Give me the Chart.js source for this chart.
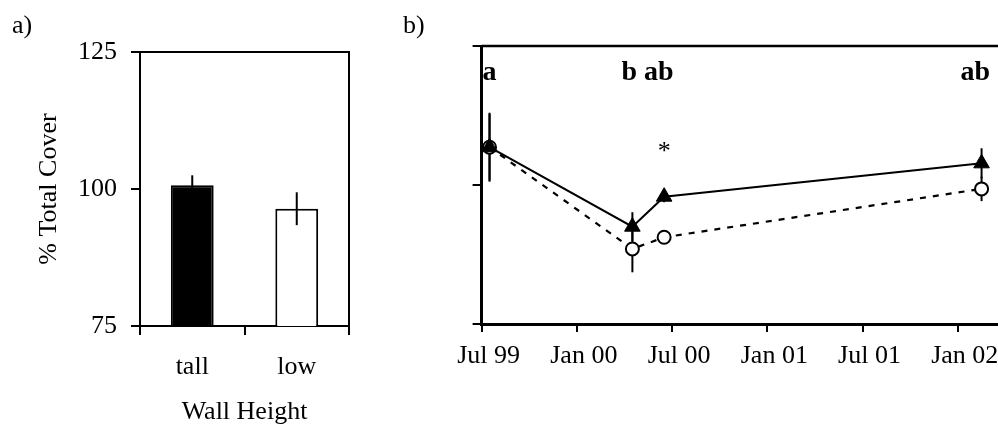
<!DOCTYPE html>
<html><head><meta charset="utf-8">
<script src="https://cdn.jsdelivr.net/npm/chart.js@4/dist/chart.umd.min.js"></script>
<style>
html,body{margin:0;padding:0;background:#fff;overflow:hidden;}
#wrap{position:relative;width:998px;height:428px;overflow:hidden;background:#fff;}
#ca{position:absolute;left:0;top:0;}
#cb{position:absolute;left:380px;top:0;}
</style></head><body>
<div id="wrap">
<canvas id="ca" width="380" height="428"></canvas>
<canvas id="cb" width="683" height="428"></canvas>
</div>
<script>
// ---- Panel a data ----
const wallCategories = ['tall', 'low'];
const wallMeans = [100.7, 96.4];
const wallErrors = [1.8, 3.0];
const coverTicks = [75, 100, 125];

// ---- Panel b data (x = months since Jul 1999) ----
const surveyMonths = [0.5, 9.5, 11.5, 31.5];
const tallSeries = [106.8, 92.5, 97.9, 103.9];
const tallErrors = [6.2, 2.6, 1.0, 2.7];
const lowSeries = [106.8, 88.5, 90.6, 99.3];
const lowErrors = [6.0, 4.2, 1.0, 2.2];
const dateTickMonths = [0, 6, 12, 18, 24, 30];
const dateTickLabels = ['Jul 99', 'Jan 00', 'Jul 00', 'Jan 01', 'Jul 01', 'Jan 02'];
const letterTexts = ['a', 'b ab', 'ab'];
const letterMonths = [0.5, 10.45, 31.1];
const letterLevel = 118.8;
const starText = '*';
const starMonth = 11.5;
const starLevel = 104.6;

const F = "'Liberation Serif','Times New Roman',serif";
const BLACK = '#000';

// ---------- Panel a ----------
const framePluginA = {
  id: 'frameA',
  afterDraw(chart) {
    const {ctx, chartArea: a} = chart;
    ctx.save();
    ctx.strokeStyle = BLACK; ctx.lineWidth = 2;
    ctx.beginPath();
    ctx.moveTo(a.left, a.top); ctx.lineTo(a.right, a.top); ctx.lineTo(a.right, a.bottom);
    ctx.stroke();
    ctx.fillStyle = BLACK;
    ctx.font = '26px ' + F;
    ctx.textAlign = 'left'; ctx.textBaseline = 'alphabetic';
    ctx.fillText('a)', 12, 33);
    ctx.restore();
  }
};
const errPluginA = {
  id: 'errA',
  afterDatasetsDraw(chart) {
    const {ctx} = chart;
    const ys = chart.scales.y;
    const meta = chart.getDatasetMeta(0);
    ctx.save();
    ctx.strokeStyle = BLACK; ctx.lineWidth = 2;
    meta.data.forEach((bar, i) => {
      ctx.beginPath();
      ctx.moveTo(bar.x, ys.getPixelForValue(wallMeans[i] + wallErrors[i]));
      ctx.lineTo(bar.x, ys.getPixelForValue(wallMeans[i] - wallErrors[i]));
      ctx.stroke();
    });
    ctx.restore();
  }
};

new Chart(document.getElementById('ca'), {
  type: 'bar',
  data: {
    labels: wallCategories,
    datasets: [{
      data: wallMeans,
      backgroundColor: [BLACK, '#fff'],
      borderColor: BLACK,
      borderWidth: 2,
      borderSkipped: false,
      barPercentage: 0.41,
      categoryPercentage: 1
    }]
  },
  options: {
    responsive: false, animation: false, events: [],
    layout: {padding: {top: 52, right: 31, left: 0, bottom: 0}},
    plugins: {legend: {display: false}, tooltip: {enabled: false}},
    scales: {
      x: {
        grid: {offset: true, drawOnChartArea: false, color: BLACK, lineWidth: 2, tickLength: 9},
        border: {color: BLACK, width: 2},
        ticks: {color: BLACK, font: {family: F, size: 26, lineHeight: 1}, padding: 19},
        title: {display: true, text: 'Wall Height', color: BLACK,
                font: {family: F, size: 26, lineHeight: 1}, padding: {top: 0, bottom: 3}},
        afterFit(s) { s.height = 102; }
      },
      y: {
        min: 75, max: 125,
        afterBuildTicks(s) { s.ticks = coverTicks.map(v => ({value: v})); },
        grid: {drawOnChartArea: false, color: BLACK, lineWidth: 2, tickLength: 9},
        border: {color: BLACK, width: 2},
        ticks: {color: BLACK, font: {family: F, size: 26, lineHeight: 1}, padding: 14},
        title: {display: true, text: '% Total Cover', color: BLACK,
                font: {family: F, size: 26, lineHeight: 1}, padding: {top: 36, bottom: 0}},
        afterFit(s) { s.width = 140; }
      }
    }
  },
  plugins: [framePluginA, errPluginA]
});

// ---------- Panel b ----------
const framePluginB = {
  id: 'frameB',
  afterDraw(chart) {
    const {ctx, chartArea: a} = chart;
    const xs = chart.scales.x, ys = chart.scales.y;
    ctx.save();
    ctx.strokeStyle = BLACK; ctx.lineWidth = 2.5;
    ctx.beginPath();
    ctx.moveTo(a.left, a.top); ctx.lineTo(a.right, a.top); ctx.lineTo(a.right, a.bottom);
    ctx.stroke();
    ctx.fillStyle = BLACK;
    ctx.font = '26px ' + F;
    ctx.textAlign = 'left'; ctx.textBaseline = 'alphabetic';
    ctx.fillText('b)', 23, 33);
    ctx.font = 'bold 28px ' + F;
    ctx.textAlign = 'center';
    letterTexts.forEach((t, i) => {
      ctx.fillText(t, xs.getPixelForValue(letterMonths[i]), ys.getPixelForValue(letterLevel));
    });
    ctx.font = '26px ' + F;
    ctx.fillText(starText, xs.getPixelForValue(starMonth), ys.getPixelForValue(starLevel));
    ctx.restore();
  }
};
const errPluginB = {
  id: 'errB',
  beforeDatasetsDraw(chart) {
    const {ctx} = chart;
    const xs = chart.scales.x, ys = chart.scales.y;
    ctx.save();
    ctx.strokeStyle = BLACK; ctx.lineWidth = 2;
    [[tallSeries, tallErrors], [lowSeries, lowErrors]].forEach(([vals, errs]) => {
      surveyMonths.forEach((m, i) => {
        const x = xs.getPixelForValue(m);
        ctx.beginPath();
        ctx.moveTo(x, ys.getPixelForValue(vals[i] + errs[i]));
        ctx.lineTo(x, ys.getPixelForValue(vals[i] - errs[i]));
        ctx.stroke();
      });
    });
    ctx.restore();
  }
};

new Chart(document.getElementById('cb'), {
  type: 'line',
  data: {
    datasets: [
      {
        data: surveyMonths.map((m, i) => ({x: m, y: tallSeries[i]})),
        borderColor: BLACK, borderWidth: 2, tension: 0,
        pointStyle: 'triangle', pointRadius: 9,
        pointBackgroundColor: BLACK, pointBorderColor: BLACK, pointBorderWidth: 1
      },
      {
        data: surveyMonths.map((m, i) => ({x: m, y: lowSeries[i]})),
        borderColor: BLACK, borderWidth: 2.2, borderDash: [6, 7], tension: 0,
        pointStyle: 'circle', pointRadius: 6.5,
        pointBackgroundColor: '#fff', pointBorderColor: BLACK, pointBorderWidth: 2
      }
    ]
  },
  options: {
    responsive: false, animation: false, events: [],
    layout: {padding: {top: 46, right: 0, left: 0, bottom: 0}},
    plugins: {legend: {display: false}, tooltip: {enabled: false}},
    scales: {
      x: {
        type: 'linear', min: 0, max: 36,
        afterBuildTicks(s) { s.ticks = dateTickMonths.map(v => ({value: v})); },
        grid: {drawOnChartArea: false, color: BLACK, lineWidth: 2, tickLength: 8},
        border: {color: BLACK, width: 3},
        ticks: {
          color: BLACK, font: {family: F, size: 26, lineHeight: 1}, padding: 11,
          labelOffset: 7, maxRotation: 0, autoSkip: false,
          callback: (v) => { const k = dateTickMonths.indexOf(v); return k >= 0 ? dateTickLabels[k] : ''; }
        },
        afterFit(s) { s.height = 104; }
      },
      y: {
        min: 75, max: 125,
        afterBuildTicks(s) { s.ticks = coverTicks.map(v => ({value: v})); },
        grid: {drawOnChartArea: false, color: BLACK, lineWidth: 2, tickLength: 9},
        border: {color: BLACK, width: 3},
        ticks: {display: false},
        afterFit(s) { s.width = 101.6; }
      }
    }
  },
  plugins: [framePluginB, errPluginB]
});
</script>
</body></html>
